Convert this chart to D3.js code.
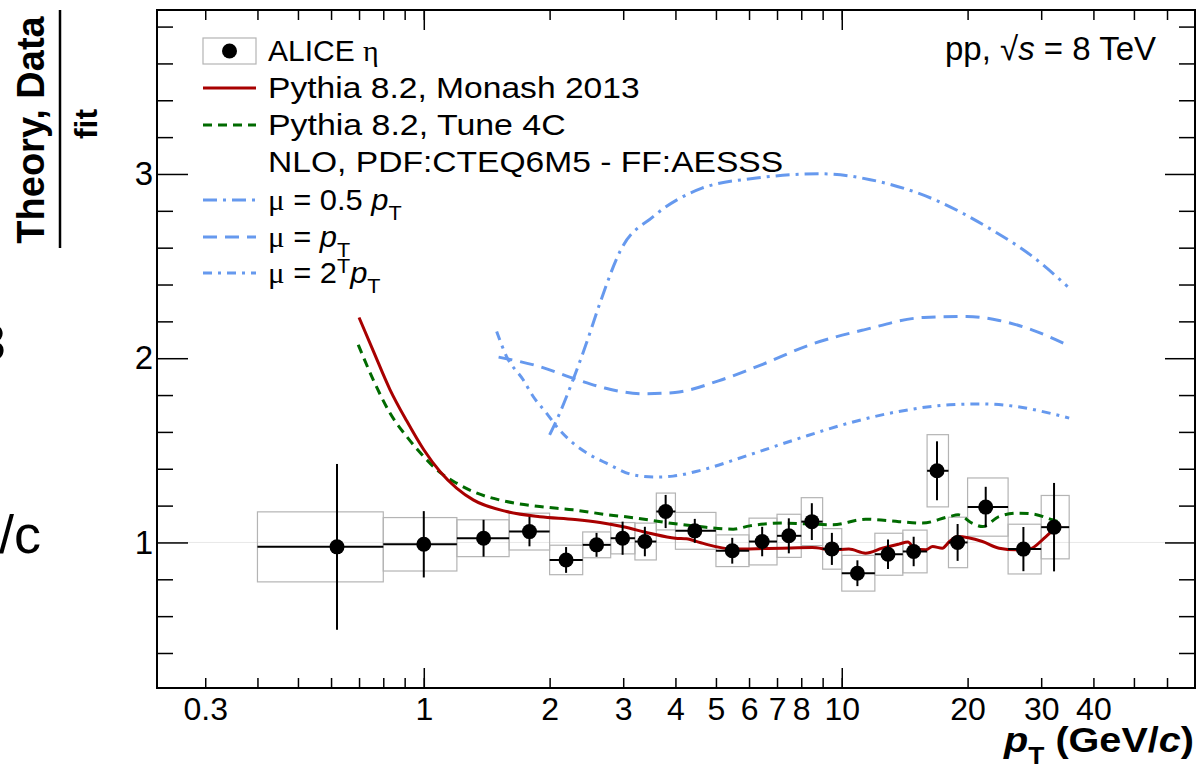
<!DOCTYPE html>
<html><head><meta charset="utf-8">
<script src="https://cdn.jsdelivr.net/npm/d3@7"></script>
<style>
html,body{margin:0;padding:0;background:#fff;}
svg{display:block;}
text{font-family:"Liberation Sans", Arial, Helvetica, sans-serif;fill:#000;}
</style></head><body>
<svg id="chart" width="1201" height="770"></svg>
<script>
// ALICE eta: ratio of data to the fit, per pT bin
const binLow  = [0.4, 0.8, 1.2, 1.6, 2.0, 2.4, 2.8, 3.2, 3.6, 4.0, 5, 6, 7, 8, 9, 10, 12, 14, 16, 18, 20, 25, 30];
const binHigh = [0.8, 1.2, 1.6, 2.0, 2.4, 2.8, 3.2, 3.6, 4.0, 5, 6, 7, 8, 9, 10, 12, 14, 16, 18, 20, 25, 30, 35];
const ptMean  = [0.62, 1.0, 1.39, 1.79, 2.19, 2.59, 2.99, 3.38, 3.79, 4.45, 5.47, 6.45, 7.47, 8.48, 9.47, 10.9, 12.9, 14.86, 16.9, 18.93, 22.1, 27.2, 32.2];
const ratio   = [0.976, 0.99, 1.023, 1.059, 0.905, 0.987, 1.023, 1.005, 1.168, 1.063, 0.955, 1.005, 1.036, 1.113, 0.965, 0.833, 0.936, 0.951, 1.389, 1.0, 1.192, 0.964, 1.083];
const statErr = [0.45, 0.18, 0.10, 0.08, 0.07, 0.065, 0.09, 0.08, 0.09, 0.065, 0.07, 0.08, 0.095, 0.10, 0.087, 0.07, 0.08, 0.08, 0.16, 0.10, 0.11, 0.12, 0.24];
const sysErr  = [0.19, 0.145, 0.10, 0.10, 0.08, 0.07, 0.085, 0.10, 0.10, 0.10, 0.086, 0.127, 0.117, 0.13, 0.11, 0.097, 0.114, 0.116, 0.196, 0.137, 0.158, 0.135, 0.172];

// Pythia 8.2, Monash 2013
const monashPt    = [0.70, 0.757, 0.83, 0.91, 1.0, 1.093, 1.198, 1.313, 1.578, 1.895, 2.3, 2.64, 3.0, 3.47, 4.0, 4.25, 4.6, 5.5, 6.0, 7.2, 8.5, 9.5, 10.4, 11.4, 12.5, 13.7, 14.4, 14.9, 15.9, 16.5, 17.4, 18.1, 18.9, 21.7, 23.8, 26.1, 28.1, 30.8, 32.5, 33.4];
const monashRatio = [2.221, 2.04, 1.83, 1.66, 1.503, 1.385, 1.295, 1.231, 1.168, 1.14, 1.125, 1.108, 1.085, 1.05, 1.023, 1.02, 0.998, 0.964, 0.965, 0.969, 0.972, 0.96, 0.964, 0.942, 0.969, 0.991, 1.002, 0.969, 0.96, 0.978, 0.969, 1.005, 1.032, 1.005, 0.969, 0.96, 0.964, 1.032, 1.078, 1.096];

// Pythia 8.2, Tune 4C
const tune4cPt    = [0.697, 0.757, 0.83, 0.91, 1.0, 1.093, 1.198, 1.313, 1.578, 1.895, 2.275, 2.7, 3.2, 3.8, 4.57, 5.5, 6.02, 7.23, 8.2, 9.52, 11.4, 13.7, 15.6, 18.1, 19.0, 20.5, 21.7, 23.8, 26.4, 28.6, 31.9, 33.2];
const tune4cRatio = [2.073, 1.883, 1.702, 1.575, 1.466, 1.38, 1.322, 1.276, 1.222, 1.195, 1.177, 1.153, 1.133, 1.108, 1.086, 1.072, 1.09, 1.105, 1.101, 1.096, 1.126, 1.113, 1.105, 1.141, 1.15, 1.105, 1.086, 1.141, 1.159, 1.155, 1.123, 1.11];

// NLO, PDF:CTEQ6M5 - FF:AESSS, three scale choices
const nloHalfPt    = [2.0, 2.115, 2.276, 2.45, 2.64, 2.96, 3.54, 4.63, 6.25, 8.93, 11.7, 16.7, 22.5, 28.6, 34.7];
const nloHalfRatio = [1.584, 1.702, 1.883, 2.082, 2.30, 2.588, 2.769, 2.923, 2.978, 3.001, 2.969, 2.86, 2.706, 2.552, 2.389];
const nloOnePt     = [1.51, 1.89, 2.33, 2.71, 3.34, 3.99, 5.07, 6.42, 8.4, 11.3, 15.7, 19.9, 23.8, 28.5, 34.6];
const nloOneRatio  = [2.006, 1.955, 1.883, 1.838, 1.807, 1.814, 1.877, 1.964, 2.073, 2.154, 2.221, 2.226, 2.205, 2.154, 2.073];
const nloTwoPt     = [1.494, 1.578, 1.729, 1.827, 1.966, 2.078, 2.276, 2.495, 2.735, 3.17, 3.6, 3.95, 4.57, 6.02, 7.93, 10.4, 13.7, 18.1, 21.7, 26.1, 31.4, 35.0];
const nloTwoRatio  = [2.145, 2.009, 1.883, 1.792, 1.702, 1.629, 1.539, 1.476, 1.43, 1.367, 1.355, 1.36, 1.39, 1.476, 1.566, 1.648, 1.711, 1.747, 1.752, 1.738, 1.702, 1.675];

// axis ticks
const xTickLabels = [0.3, 1, 2, 3, 4, 5, 6, 7, 8, 10, 20, 30, 40];
const yTickLabels = [1, 2, 3];

const svg = d3.select("#chart");
svg.append("rect").attr("width", 1201).attr("height", 770).attr("fill", "#fff");

const frame = {left: 157, right: 1195, top: 10, bottom: 688};
const x = d3.scaleLog().domain([0.23, 70]).range([frame.left, frame.right]);
const y = d3.scaleLinear().domain([0.21, 3.89]).range([frame.bottom, frame.top]);

const BLUE = "#6699ee", RED = "#a80000", GREEN = "#006a00";

// reference line at unity
svg.append("line")
  .attr("x1", frame.left).attr("x2", frame.right)
  .attr("y1", y(1)).attr("y2", y(1))
  .attr("stroke", "#e8e8e8").attr("stroke-width", 1);

// --- ticks ---
const xMinor = [];
for (let e = -1; e <= 1; e++) for (let m = 1; m <= 9; m++) {
  const v = m * Math.pow(10, e);
  if (v > 0.23 && v < 70) xMinor.push(+v.toPrecision(3));
}
const yMinor = d3.range(0.4, 3.81, 0.2).map(v => +v.toFixed(1)).filter(v => ![1, 2, 3].includes(v));

function stripDomain(g) { g.select(".domain").remove(); g.selectAll("line").attr("stroke", "#000").attr("stroke-width", 1.5); }

svg.append("g").attr("transform", `translate(0,${frame.bottom})`)
  .call(d3.axisBottom(x).tickValues(xMinor).tickSize(-10).tickFormat(""))
  .call(stripDomain);
svg.append("g").attr("transform", `translate(0,${frame.top})`)
  .call(d3.axisTop(x).tickValues(xMinor).tickSize(-10).tickFormat(""))
  .call(stripDomain);
svg.append("g").attr("transform", `translate(0,${frame.bottom})`)
  .call(d3.axisBottom(x).tickValues([1, 10]).tickSize(-20).tickFormat(""))
  .call(stripDomain);
svg.append("g").attr("transform", `translate(0,${frame.top})`)
  .call(d3.axisTop(x).tickValues([1, 10]).tickSize(-20).tickFormat(""))
  .call(stripDomain);

const xLab = svg.append("g").attr("transform", `translate(0,${frame.bottom})`)
  .call(d3.axisBottom(x).tickValues(xTickLabels).tickSize(0).tickPadding(9).tickFormat(d => String(d)))
  .call(stripDomain);
xLab.selectAll("text").attr("font-size", 32).attr("font-family", "Liberation Sans, Arial, sans-serif");

svg.append("g").attr("transform", `translate(${frame.left},0)`)
  .call(d3.axisLeft(y).tickValues(yMinor).tickSize(-16).tickFormat(""))
  .call(stripDomain);
svg.append("g").attr("transform", `translate(${frame.right},0)`)
  .call(d3.axisRight(y).tickValues(yMinor).tickSize(-16).tickFormat(""))
  .call(stripDomain);
svg.append("g").attr("transform", `translate(${frame.right},0)`)
  .call(d3.axisRight(y).tickValues(yTickLabels).tickSize(-30).tickFormat(""))
  .call(stripDomain);
const yLab = svg.append("g").attr("transform", `translate(${frame.left},0)`)
  .call(d3.axisLeft(y).tickValues(yTickLabels).tickSize(-31).tickPadding(4).tickFormat(d => String(d)))
  .call(stripDomain);
yLab.selectAll("text").attr("font-size", 33).attr("font-family", "Liberation Sans, Arial, sans-serif");

// --- systematic boxes ---
const idx = d3.range(ratio.length);
svg.append("g").selectAll("rect").data(idx).join("rect")
  .attr("x", i => x(binLow[i])).attr("width", i => x(binHigh[i]) - x(binLow[i]))
  .attr("y", i => y(ratio[i] + sysErr[i])).attr("height", i => y(ratio[i] - sysErr[i]) - y(ratio[i] + sysErr[i]))
  .attr("fill", "none").attr("stroke", "#b4b4b4").attr("stroke-width", 1.2);

// --- model curves ---
function curve(xs, ys, color, dash) {
  const pts = xs.map((v, i) => [v, ys[i]]);
  svg.append("path").datum(pts)
    .attr("d", d3.line().x(d => x(d[0])).y(d => y(d[1])).curve(d3.curveMonotoneX))
    .attr("fill", "none").attr("stroke", color).attr("stroke-width", 3)
    .attr("stroke-dasharray", dash || null);
}
curve(nloHalfPt, nloHalfRatio, BLUE, "14,6,3,6");
curve(nloOnePt, nloOneRatio, BLUE, "14,8");
curve(nloTwoPt, nloTwoRatio, BLUE, "9,6,3,6");
curve(tune4cPt, tune4cRatio, GREEN, "9,6");
curve(monashPt, monashRatio, RED, null);

// --- data points with statistical errors ---
const pts = svg.append("g");
pts.selectAll("line.h").data(idx).join("line").attr("class", "h")
  .attr("x1", i => x(binLow[i])).attr("x2", i => x(binHigh[i]))
  .attr("y1", i => y(ratio[i])).attr("y2", i => y(ratio[i]))
  .attr("stroke", "#000").attr("stroke-width", 2);
pts.selectAll("line.v").data(idx).join("line").attr("class", "v")
  .attr("x1", i => x(ptMean[i])).attr("x2", i => x(ptMean[i]))
  .attr("y1", i => y(ratio[i] + statErr[i])).attr("y2", i => y(ratio[i] - statErr[i]))
  .attr("stroke", "#000").attr("stroke-width", 2);
pts.selectAll("circle").data(idx).join("circle")
  .attr("cx", i => x(ptMean[i])).attr("cy", i => y(ratio[i])).attr("r", 7.5).attr("fill", "#000");

// frame
svg.append("rect").attr("x", frame.left).attr("y", frame.top)
  .attr("width", frame.right - frame.left).attr("height", frame.bottom - frame.top)
  .attr("fill", "none").attr("stroke", "#000").attr("stroke-width", 2);

// --- legend ---
const leg = svg.append("g");
const lx0 = 203, lx1 = 256, tx = 268, FS = 30;
const rows = [51, 88, 125, 162, 200, 237, 273];
leg.append("rect").attr("x", lx0).attr("y", rows[0] - 13).attr("width", lx1 - lx0).attr("height", 26)
  .attr("fill", "none").attr("stroke", "#b4b4b4").attr("stroke-width", 1.2);
leg.append("circle").attr("cx", (lx0 + lx1) / 2).attr("cy", rows[0]).attr("r", 7.5).attr("fill", "#000");
const legLines = [[1, RED, null], [2, GREEN, "9,6"], [4, BLUE, "14,6,3,6"], [5, BLUE, "14,8"], [6, BLUE, "9,6,3,6"]];
legLines.forEach(([r, c, d]) => leg.append("line").attr("x1", lx0).attr("x2", lx1)
  .attr("y1", rows[r]).attr("y2", rows[r]).attr("stroke", c).attr("stroke-width", 3).attr("stroke-dasharray", d));

// legend entries are drawn slightly widened, as in the original canvas text
function ltext(r, sx) {
  return leg.append("text").attr("transform", `translate(${tx},${rows[r] + 10}) scale(${sx},1)`).attr("font-size", FS);
}
let t = ltext(0, 1.0); t.append("tspan").text("ALICE "); t.append("tspan").attr("font-family", "Liberation Serif, serif").text("η");
ltext(1, 1.12).text("Pythia 8.2, Monash 2013");
ltext(2, 1.13).text("Pythia 8.2, Tune 4C");
ltext(3, 1.12).text("NLO, PDF:CTEQ6M5 - FF:AESSS");
function muRow(r, pre) {
  const tt = ltext(r, 1.03);
  tt.append("tspan").attr("font-family", "Liberation Serif, serif").text("μ");
  tt.append("tspan").text(" = " + pre);
  return tt;
}
t = muRow(4, "0.5 ");
t.append("tspan").attr("font-style", "italic").text("p");
t.append("tspan").attr("font-size", 21).attr("dy", 10).text("T");
t = muRow(5, "");
t.append("tspan").attr("font-style", "italic").text("p");
t.append("tspan").attr("font-size", 21).attr("dy", 10).text("T");
t = muRow(6, "2");
t.append("tspan").attr("font-size", 21).attr("dy", -10).text("T");
t.append("tspan").attr("font-style", "italic").attr("dy", 10).text("p");
t.append("tspan").attr("font-size", 21).attr("dy", 10).text("T");

// collision system label
t = svg.append("text").attr("x", 945).attr("y", 60).attr("font-size", 33);
t.append("tspan").text("pp, ");
t.append("tspan").text("√");
t.append("tspan").attr("font-style", "italic").text("s");
t.append("tspan").text(" = 8 TeV");

// x axis title
t = svg.append("text").attr("transform", "translate(1194,752) scale(1.1,1)").attr("text-anchor", "end")
  .attr("font-size", 36).attr("font-weight", "bold");
t.append("tspan").attr("font-style", "italic").text("p");
t.append("tspan").attr("font-size", 24).attr("dy", 12).text("T");
t.append("tspan").attr("dy", -12).text(" (GeV/");
t.append("tspan").attr("font-style", "italic").text("c");
t.append("tspan").text(")");

// y axis title as a fraction
svg.append("text").attr("transform", "translate(44,130) rotate(-90)").attr("text-anchor", "middle")
  .attr("font-size", 38).attr("font-weight", "bold").text("Theory, Data");
svg.append("line").attr("x1", 60).attr("x2", 60).attr("y1", 10).attr("y2", 248)
  .attr("stroke", "#000").attr("stroke-width", 2.5);
svg.append("text").attr("transform", "translate(97,124) rotate(-90)").attr("text-anchor", "middle")
  .attr("font-size", 32).attr("font-weight", "bold").text("fit");

// fragments of neighbouring page content at the left edge
svg.append("text").attr("x", -22).attr("y", 360).attr("font-size", 50)
  .attr("font-family", "DejaVu Sans, sans-serif").text("3");
svg.append("text").attr("x", -1).attr("y", 553).attr("font-size", 54)
  .attr("font-family", "DejaVu Sans, sans-serif").text("/c");
</script>
</body></html>
